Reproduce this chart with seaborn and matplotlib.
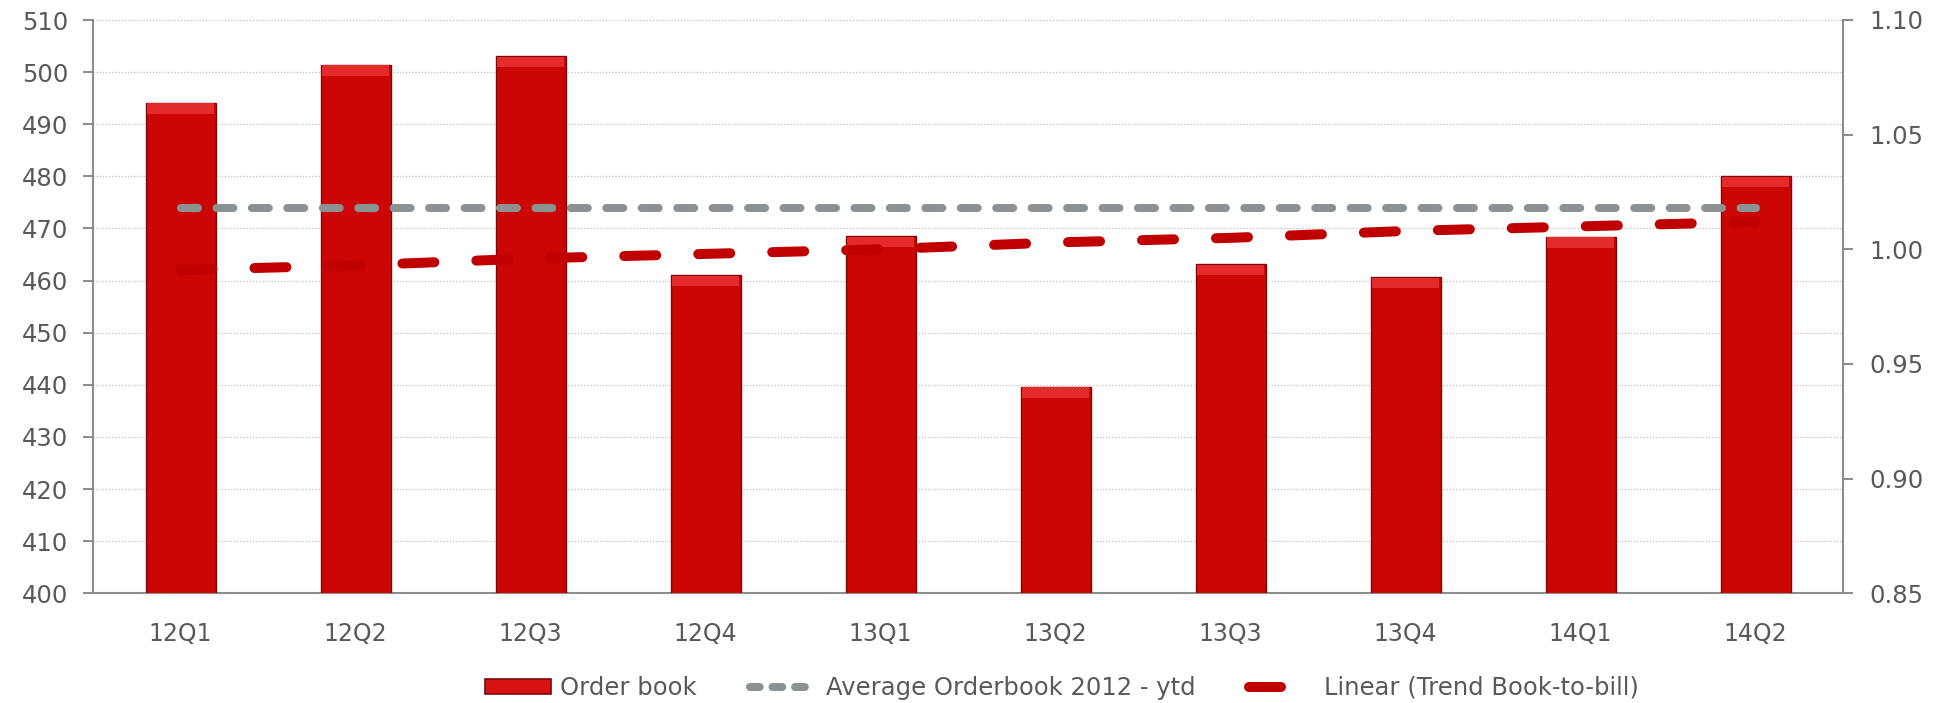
import numpy as np
import pandas as pd
import matplotlib
matplotlib.use("Agg")
import matplotlib.pyplot as plt
import seaborn as sns
from matplotlib.patches import Patch
from matplotlib.lines import Line2D

# ---- data ----
quarters = ["12Q1", "12Q2", "12Q3", "12Q4", "13Q1", "13Q2", "13Q3", "13Q4", "14Q1", "14Q2"]
order_book = [494.1, 501.4, 503.0, 461.0, 468.5, 439.6, 463.1, 460.6, 468.4, 480.0]
avg_orderbook = [474.0, 474.0, 474.0, 474.0, 474.0, 474.0, 474.0, 474.0, 474.0, 474.0]
trend_btb = [0.991, 0.993, 0.996, 0.998, 1.000, 1.003, 1.005, 1.008, 1.010, 1.012]
left_ticks = [400, 410, 420, 430, 440, 450, 460, 470, 480, 490, 500, 510]
right_ticks = [0.85, 0.90, 0.95, 1.00, 1.05, 1.10]
legend_labels = ["Order book", "Average Orderbook 2012 - ytd", "Linear (Trend Book-to-bill)"]

# ---- style ----
sns.set_style("white")
plt.rcParams["font.family"] = ["DejaVu Sans"]

BAR = "#CC0505"
BAR_EDGE = "#7A0A0A"
BEVEL = "#E52A2C"
GRAY = "#8C9193"
TREND = "#C00000"
TXT = "#595959"
SPINE = "#8C8C8C"

fig = plt.figure(figsize=(19.36, 7.03), dpi=100)
ax = fig.add_axes([93 / 1936, 1 - 593.3 / 703, (1843 - 93) / 1936, (593.3 - 20) / 703])

df = pd.DataFrame({"quarter": quarters, "orders": order_book})
sns.barplot(data=df, x="quarter", y="orders", ax=ax, color=BAR, width=0.4,
            edgecolor=BAR_EDGE, linewidth=1.0, saturation=1, zorder=3)

xpos = np.arange(len(quarters))
# top bevel highlight
ax.bar(xpos, [2.0] * len(xpos), bottom=np.array(order_book) - 2.1, width=0.385,
       color=BEVEL, linewidth=0, zorder=4)

# average line (primary axis)
sns.lineplot(x=xpos, y=avg_orderbook, ax=ax, color=GRAY, linewidth=5.8,
             dashes=False, zorder=5, legend=False)
ax.lines[-1].set_dashes([2.1, 2.3])
ax.lines[-1].set_dash_capstyle("round")

ax.set_ylim(400, 510)
ax.set_xlim(-0.5, len(quarters) - 0.5)
ax.set_yticks(left_ticks)
ax.set_xlabel("")
ax.set_ylabel("")
ax.grid(axis="y", color="#BFBFBF", linestyle=(0, (1, 1.5)), linewidth=0.9, zorder=0)
ax.set_axisbelow(True)

# x ticks: labels at centers, marks at boundaries
ax.set_xticks(xpos)
ax.set_xticklabels(quarters)
ax.set_xticks(np.arange(-0.5, len(quarters), 1), minor=True)
ax.tick_params(axis="x", which="major", length=0, pad=21, labelsize=17, labelcolor=TXT)
ax.tick_params(axis="x", which="minor", length=7, width=1.5, color=SPINE, direction="out")
ax.tick_params(axis="y", length=7, width=1.5, color=SPINE, pad=11, labelsize=17.5, labelcolor=TXT)

for s in ["top", "right"]:
    ax.spines[s].set_visible(False)
for s in ["left", "bottom"]:
    ax.spines[s].set_color(SPINE)
    ax.spines[s].set_linewidth(1.5)

# secondary axis
ax2 = ax.twinx()
sns.lineplot(x=xpos, y=trend_btb, ax=ax2, color=TREND, linewidth=7.2,
             dashes=False, zorder=6, legend=False)
ax2.lines[-1].set_dashes([3.2, 4.2])
ax2.lines[-1].set_dash_capstyle("round")
ax2.set_ylim(0.85, 1.10)
ax2.set_yticks(right_ticks)
ax2.set_yticklabels([f"{v:.2f}" for v in right_ticks])
ax2.set_ylabel("")
ax2.tick_params(axis="y", length=7, width=1.5, color=SPINE, pad=12, labelsize=17.5, labelcolor=TXT)
for s in ["top", "left", "bottom"]:
    ax2.spines[s].set_visible(False)
ax2.spines["right"].set_color(SPINE)
ax2.spines["right"].set_linewidth(1.5)
ax2.grid(False)

# legend
h_bar = Patch(facecolor="#D81212", edgecolor=BAR_EDGE, linewidth=1.2)
h_avg = Line2D([], [], color=GRAY, linewidth=5.8, dashes=[1.2, 1.6], dash_capstyle="round")
h_trd = Line2D([], [], color=TREND, linewidth=7.2, dashes=[3.2, 4.2], dash_capstyle="round")
fig.legend([h_bar, h_avg, h_trd], legend_labels, loc="center",
           bbox_to_anchor=(1062 / 1936, 1 - 688 / 703), ncol=3, frameon=False,
           fontsize=17.5, labelcolor=TXT, handlelength=2.7, handleheight=0.6,
           handletextpad=0.4, columnspacing=2.2)

fig.savefig("out.png", dpi=100, facecolor="white")
